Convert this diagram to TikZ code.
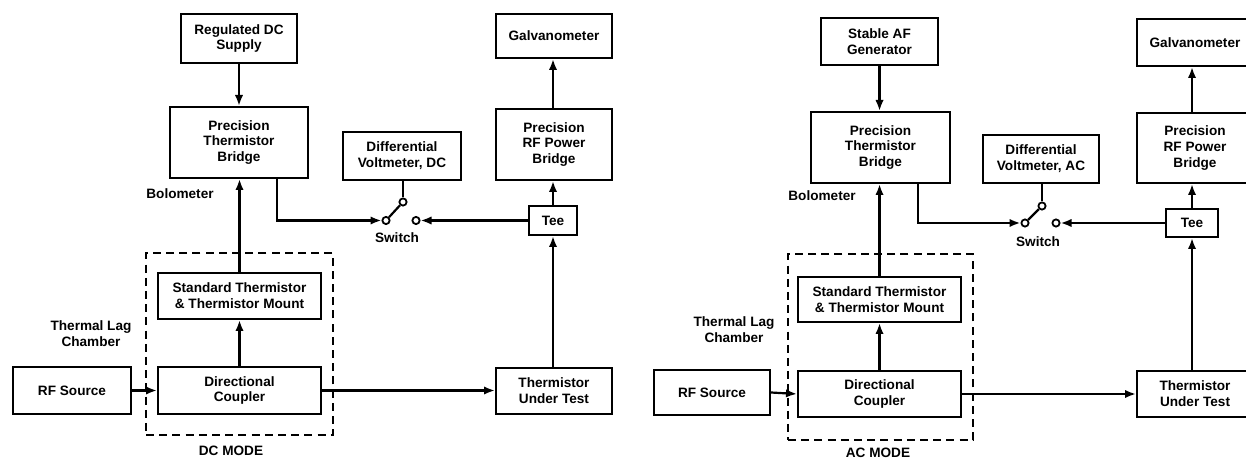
\documentclass[tikz,border=0pt]{standalone}
\usepackage{fontspec}
\setmainfont{Liberation Sans}
\usetikzlibrary{arrows.meta}
\tikzset{
  blk/.style={draw, line width=1pt, rectangle, align=center, inner sep=0pt},
  lbl/.style={align=center, inner sep=0pt},
  arr/.style={line width=1.1pt, -{Latex[length=5.5pt,width=4.2pt]}},
  ln/.style={line width=1.1pt},
  contact/.style={circle, draw, line width=0.9pt, fill=white, minimum size=3.6pt, inner sep=0pt},
  dashbox/.style={draw, line width=0.8pt, dash pattern=on 4pt off 2.6pt, inner sep=0pt}
}
\begin{document}
\begin{tikzpicture}[x=0.5pt, y=-0.5pt, font=\fontsize{6.8}{7.9}\selectfont\bfseries]
\useasboundingbox (0,0) rectangle (1246,458);
\clip (0,0) rectangle (1246,458);
\fill[white] (0,0) rectangle (1246,458);

% ================= DC MODE (left) =================
\node[dashbox, minimum width=93.5pt, minimum height=91pt] (chamberA) at (239.5,344) {};
\node[blk, minimum width=58pt, minimum height=24.5pt] (regdc) at (239,38.5) {Regulated DC\\Supply};
\node[blk, minimum width=69pt, minimum height=35.5pt] (ptbA) at (239,142.5) {Precision\\Thermistor\\Bridge};
\node[blk, minimum width=59pt, minimum height=24pt] (dvmA) at (402,156) {Differential\\Voltmeter, DC};
\node[blk, minimum width=58pt, minimum height=22pt] (galvA) at (554,36) {Galvanometer};
\node[blk, minimum width=58pt, minimum height=35.5pt] (rfpbA) at (554,144.5) {Precision\\RF Power\\Bridge};
\node[blk, minimum width=24pt, minimum height=14.5pt] (teeA) at (553,220.5) {Tee};
\node[blk, minimum width=81.5pt, minimum height=23pt] (stdA) at (239.5,296) {Standard Thermistor\\\& Thermistor Mount};
\node[blk, minimum width=81.5pt, minimum height=23.5pt] (dcA) at (239.5,390.5) {Directional\\Coupler};
\node[blk, minimum width=59pt, minimum height=23.5pt] (rfsA) at (72,390.5) {RF Source};
\node[blk, minimum width=58pt, minimum height=23pt] (tutA) at (554,391) {Thermistor\\Under Test};

\node[contact] (swlA) at (386,220.5) {};
\node[contact] (swtA) at (403,202) {};
\node[contact] (swrA) at (416,220.5) {};

\node[lbl] (boloA) at (180,194) {Bolometer};
\node[lbl] (swlabA) at (397,238) {Switch};
\node[lbl] (tlcA) at (91,334) {Thermal Lag\\Chamber};
\node[lbl] (modeA) at (231,451) {DC MODE};

\draw[arr] (regdc.south) -- (regdc.south |- ptbA.north);
\draw[arr] (stdA.north) -- (stdA.north |- ptbA.south);
\draw[arr] (dcA.north) -- (stdA.south);
\draw[arr] (rfsA.east) -- (dcA.west);
\draw[arr] (dcA.east) -- (dcA.east -| tutA.west);
\draw[arr] (teeA.south |- tutA.north) -- (teeA.south);
\draw[arr] (teeA.north) -- (teeA.north |- rfpbA.south);
\draw[arr] (rfpbA.north -| teeA.north) -- (galvA.south -| teeA.north);
\draw[arr] ([xshift=-16pt]ptbA.south east) |- (swlA.west);
\draw[arr] (teeA.west) -- (swrA.east);
\draw[ln] (swtA.north |- dvmA.south) -- (swtA.north);
\draw[ln] (swlA) -- (swtA);

% ================= AC MODE (right) =================
\node[dashbox, minimum width=92.5pt, minimum height=93pt] (chamberB) at (880.5,347) {};
\node[blk, minimum width=58.5pt, minimum height=23.5pt] (afg) at (879.5,41.5) {Stable AF\\Generator};
\node[blk, minimum width=69.5pt, minimum height=35.5pt] (ptbB) at (880.5,147.5) {Precision\\Thermistor\\Bridge};
\node[blk, minimum width=58pt, minimum height=24pt] (dvmB) at (1041,159) {Differential\\Voltmeter, AC};
\node[blk, minimum width=58pt, minimum height=23.5pt] (galvB) at (1195,42.5) {Galvanometer};
\node[blk, minimum width=58pt, minimum height=35pt] (rfpbB) at (1195,148) {Precision\\RF Power\\Bridge};
\node[blk, minimum width=26pt, minimum height=14pt] (teeB) at (1192,223) {Tee};
\node[blk, minimum width=81.5pt, minimum height=22.5pt] (stdB) at (879.5,299.5) {Standard Thermistor\\\& Thermistor Mount};
\node[blk, minimum width=81.5pt, minimum height=23pt] (dcB) at (879.5,394) {Directional\\Coupler};
\node[blk, minimum width=58pt, minimum height=22.5pt] (rfsB) at (712,392.5) {RF Source};
\node[blk, minimum width=58pt, minimum height=23pt] (tutB) at (1195,394) {Thermistor\\Under Test};

\node[contact] (swlB) at (1025,223) {};
\node[contact] (swtB) at (1042,206) {};
\node[contact] (swrB) at (1056,223) {};

\node[lbl] (boloB) at (822,196) {Bolometer};
\node[lbl] (swlabB) at (1038,242) {Switch};
\node[lbl] (tlcB) at (734,330) {Thermal Lag\\Chamber};
\node[lbl] (modeB) at (878,453) {AC MODE};

\draw[arr] (afg.south) -- (afg.south |- ptbB.north);
\draw[arr] (stdB.north) -- (stdB.north |- ptbB.south);
\draw[arr] (dcB.north) -- (stdB.south);
\draw[arr] (rfsB.east) -- (dcB.west);
\draw[arr] (dcB.east) -- (dcB.east -| tutB.west);
\draw[arr] (teeB.south |- tutB.north) -- (teeB.south);
\draw[arr] (teeB.north) -- (teeB.north |- rfpbB.south);
\draw[arr] (rfpbB.north -| teeB.north) -- (galvB.south -| teeB.north);
\draw[arr] ([xshift=-16.5pt]ptbB.south east) |- (swlB.west);
\draw[arr] (teeB.west) -- (swrB.east);
\draw[ln] (swtB.north |- dvmB.south) -- (swtB.north);
\draw[ln] (swlB) -- (swtB);
\end{tikzpicture}
\end{document}
